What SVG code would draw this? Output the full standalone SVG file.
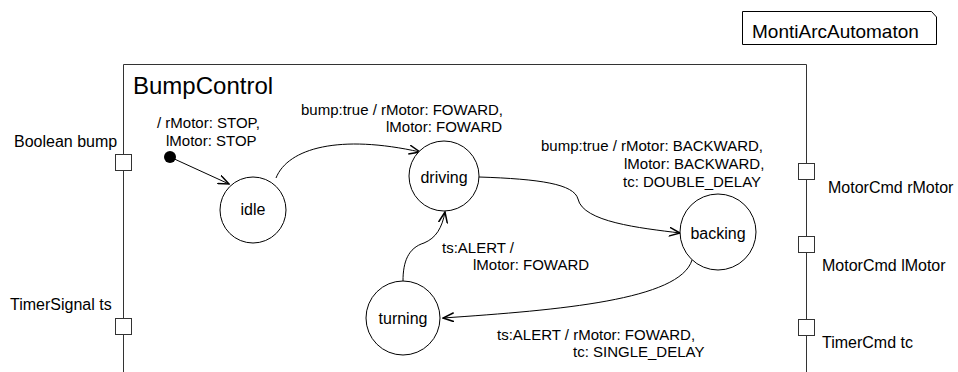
<svg xmlns="http://www.w3.org/2000/svg" width="958" height="372" viewBox="0 0 958 372">
<style>
text{font-family:"Liberation Sans",Arial,sans-serif;fill:#000}
.port{fill:#fff;stroke:#333;stroke-width:1}
.comp{fill:none;stroke:#333;stroke-width:1}
.state{fill:#fff;stroke:#000;stroke-width:1}
.tr{fill:none;stroke:#000;stroke-width:1;marker-end:url(#arr)}
.lbl{font-size:15px}
.plbl{font-size:16px}
.slbl{font-size:16px;text-anchor:middle}
</style>
<defs>
<marker id="arr" viewBox="0 0 12 10" refX="11" refY="5" markerWidth="12" markerHeight="10" markerUnits="userSpaceOnUse" orient="auto">
<path d="M0,0.5 L11,5 L0,9.5" fill="none" stroke="#000" stroke-width="1.5"/>
</marker>
</defs>
<g id="stereotype">
<path d="M742.5,11.5 H931.5 L936.5,17 V44.5 H742.5 Z" fill="#fff" stroke="#000"/>
<text x="752" y="38" style="font-size:19px">MontiArcAutomaton</text>
</g>
<g id="BumpControl">
<path class="comp" d="M123.5,372 V64.5 H806.5 V372"/>
<text x="133" y="94" style="font-size:24px">BumpControl</text>
</g>
<g id="port-bump">
<rect class="port" x="115.5" y="154.5" width="16" height="16"/>
<text class="plbl" x="14" y="147">Boolean bump</text>
</g>
<g id="port-ts">
<rect class="port" x="115.5" y="318.5" width="16" height="16"/>
<text class="plbl" x="10" y="310">TimerSignal ts</text>
</g>
<g id="port-rMotor">
<rect class="port" x="798.5" y="163.5" width="16" height="16"/>
<text class="plbl" x="828" y="193">MotorCmd rMotor</text>
</g>
<g id="port-lMotor">
<rect class="port" x="798.5" y="236.5" width="16" height="16"/>
<text class="plbl" x="822" y="271">MotorCmd lMotor</text>
</g>
<g id="port-tc">
<rect class="port" x="798.5" y="319.5" width="16" height="16"/>
<text class="plbl" x="822" y="348">TimerCmd tc</text>
</g>
<g id="connectors">
<path class="tr" d="M170,157 L229,184"/>
<path class="tr" d="M276,178 C288,148 340,134 420,152"/>
<path class="tr" d="M479,177 C540,179 574,184 578,199 C583,222 640,228 680,233"/>
<path class="tr" d="M692,260 C680,300 560,310 443,318"/>
<path class="tr" d="M403,281 C403,262 408,248 424,243 C436,238 442,228 445,212"/>
</g>
<g id="initial">
<circle cx="170" cy="157" r="6" fill="#000"/>
</g>
<g id="idle">
<circle class="state" cx="253" cy="210" r="33"/>
<text class="slbl" x="253" y="215">idle</text>
</g>
<g id="driving">
<circle class="state" cx="444" cy="176" r="35"/>
<text class="slbl" x="444" y="183">driving</text>
</g>
<g id="backing">
<circle class="state" cx="718" cy="232" r="38"/>
<text class="slbl" x="718" y="239">backing</text>
</g>
<g id="turning">
<circle class="state" cx="403" cy="318" r="37"/>
<text class="slbl" x="403" y="324">turning</text>
</g>
<g id="labels">
<text class="lbl" x="157" y="128">/ rMotor: STOP,</text>
<text class="lbl" x="166" y="146">lMotor: STOP</text>
<text class="lbl" x="301" y="115">bump:true / rMotor: FOWARD,</text>
<text class="lbl" x="386" y="132">lMotor: FOWARD</text>
<text class="lbl" x="541" y="151">bump:true / rMotor: BACKWARD,</text>
<text class="lbl" x="624" y="169">lMotor: BACKWARD,</text>
<text class="lbl" x="623" y="187">tc: DOUBLE_DELAY</text>
<text class="lbl" x="442" y="253">ts:ALERT /</text>
<text class="lbl" x="473" y="270">lMotor: FOWARD</text>
<text class="lbl" x="497" y="340">ts:ALERT / rMotor: FOWARD,</text>
<text class="lbl" x="573" y="357">tc: SINGLE_DELAY</text>
</g>
</svg>
